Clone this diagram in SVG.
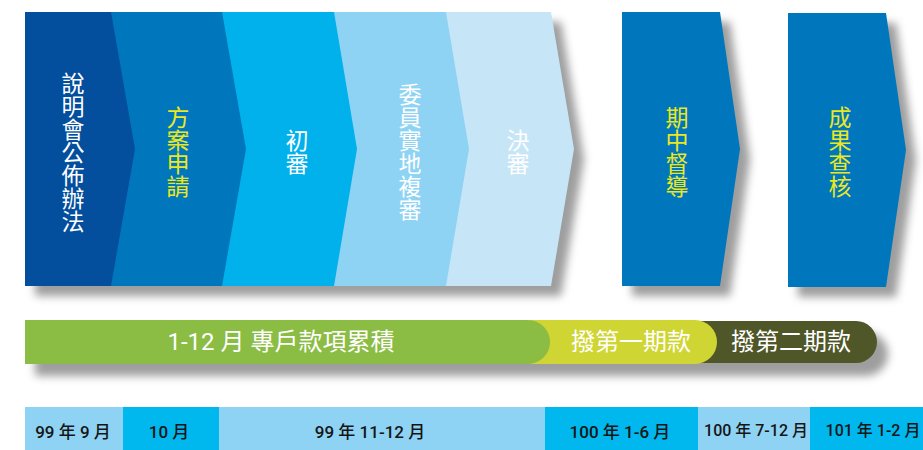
<svg xmlns="http://www.w3.org/2000/svg" width="923" height="450" viewBox="0 0 923 450">
<defs>
<filter id="blur" x="-10%" y="-20%" width="120%" height="140%"><feGaussianBlur stdDeviation="4.5"/></filter>
<style>
.v{font-family:"Noto Sans CJK TC","Noto Sans CJK SC",sans-serif;font-size:23px;text-anchor:middle;writing-mode:vertical-rl}
.w{fill:#ffffff}
.y{fill:#ECE81C}
.p{font-family:Roboto,"Noto Sans CJK TC",sans-serif;font-size:24px;fill:#ffffff;text-anchor:middle}
.d{font-family:Roboto,"Noto Sans CJK TC",sans-serif;font-size:17px;font-weight:500;fill:#151515;text-anchor:middle}
.sh{fill:#000;fill-opacity:0.38}
</style>
</defs>
<rect width="923" height="450" fill="#ffffff"/>
<!-- shadows -->
<g filter="url(#blur)">
<polygon class="sh" points="35,22 561,22 584,159 561,296 35,296"/>
<polygon class="sh" points="632,22 730,22 750,159 730,296 632,296"/>
<polygon class="sh" points="798,23 896,23 916,160 896,297 798,297"/>
<path class="sh" d="M35,332 H866 A22,22 0 0 1 866,376 H35 Z"/>
</g>
<!-- chevrons (drawn right to left so earlier ones overlap) -->
<g id="step5"><polygon points="446,12 551,12 574,149 551,286 446,286" fill="#C6E6F8"/>
<text class="v w" x="518" y="151.5">決審</text></g>
<g id="step4"><polygon points="334,12 446,12 469,149 446,286 334,286" fill="#8ED3F4"/>
<text class="v w" x="410" y="152">委員實地複審</text></g>
<g id="step3"><polygon points="222,12 334,12 357,149 334,286 222,286" fill="#00B1EB"/>
<text class="v w" x="297" y="151.5">初審</text></g>
<g id="step2"><polygon points="111,12 222,12 246,149 222,286 111,286" fill="#0077BC"/>
<text class="v y" x="178" y="152">方案申請</text></g>
<g id="step1"><polygon points="25,12 111,12 135,149 111,286 25,286" fill="#034E9D"/>
<text class="v w" x="73" y="152">說明會公佈辦法</text></g>
<g id="step6"><polygon points="622,12 720,12 740,149 720,286 622,286" fill="#0077BC"/>
<text class="v y" x="677" y="151.5">期中督導</text></g>
<g id="step7"><polygon points="788,13 886,13 906,150 886,287 788,287" fill="#0077BC"/>
<text class="v y" x="840" y="151.5">成果查核</text></g>
<!-- funding bar -->
<g id="pay2"><path d="M690,321 H856 A21,21 0 0 1 856,363 H690 Z" fill="#4F5628"/>
<text class="p" x="791" y="350">撥第二期款</text></g>
<g id="pay1"><path d="M530,320 H695 A22,22 0 0 1 695,364 H530 Z" fill="#CFD532"/>
<text class="p" x="631" y="350">撥第一期款</text></g>
<g id="accum"><path d="M25,320 H528 A22,22 0 0 1 528,364 H25 Z" fill="#8BBC43"/>
<text class="p" x="281" y="350">1-12 月 專戶款項累積</text></g>
<!-- timeline -->
<g id="t1"><rect x="25" y="407" width="98" height="43" fill="#8ED3F4"/><text class="d" x="73" y="438">99 年 9 月</text></g>
<g id="t2"><rect x="123" y="407" width="96" height="43" fill="#00B8EE"/><text class="d" x="169" y="438">10 月</text></g>
<g id="t3"><rect x="219" y="407" width="326" height="43" fill="#8ED3F4"/><text class="d" x="370" y="438">99 年 11-12 月</text></g>
<g id="t4"><rect x="545" y="407" width="153" height="43" fill="#00B8EE"/><text class="d" x="620" y="438">100 年 1-6 月</text></g>
<g id="t5"><rect x="698" y="407" width="112" height="43" fill="#8ED3F4"/><text class="d" style="font-size:16px" x="756" y="436">100 年 7-12 月</text></g>
<g id="t6"><rect x="810" y="407" width="113" height="43" fill="#00B8EE"/><text class="d" style="font-size:16px" x="873" y="436">101 年 1-2 月</text></g>
</svg>
